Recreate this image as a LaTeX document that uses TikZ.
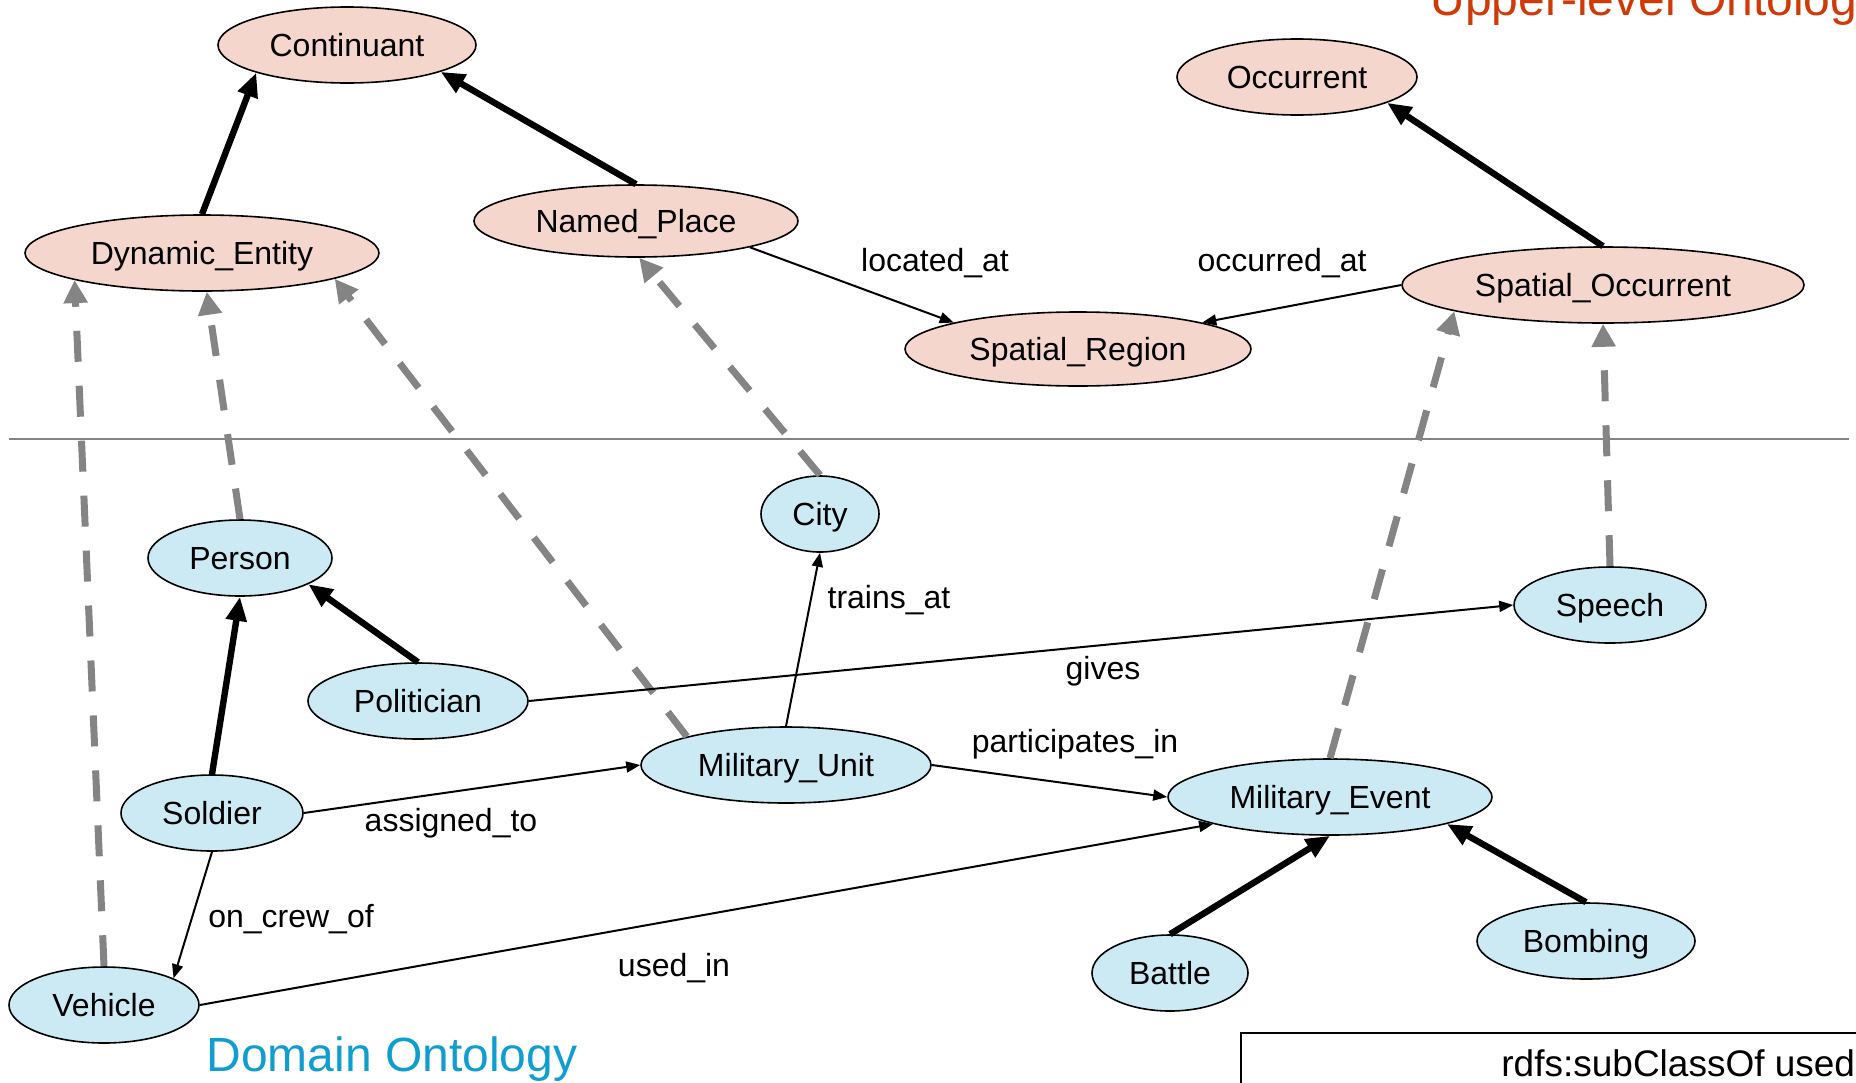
\documentclass[tikz,border=0pt]{standalone}
\usepackage{fontspec}
\setmainfont{Liberation Sans}
\usetikzlibrary{shapes.geometric,arrows.meta}
\definecolor{upperfill}{RGB}{245,214,204}
\definecolor{lowerfill}{RGB}{204,234,244}
\definecolor{uppertitle}{RGB}{208,58,8}
\definecolor{lowertitle}{RGB}{16,158,208}
\definecolor{linkgray}{RGB}{132,132,132}

\begin{document}
\begin{tikzpicture}[x=0.5pt,y=-0.5pt,
  concept/.style={ellipse, draw, line width=0.8pt, inner sep=0pt,
    font=\fontsize{16}{19}\selectfont, text height=11.5pt, text depth=0pt},
  upper/.style={concept, fill=upperfill},
  lower/.style={concept, fill=lowerfill},
  lbl/.style={font=\fontsize{16}{19}\selectfont, inner sep=0pt,
    text height=11.5pt, text depth=0pt},
  isa/.style={line width=3.2pt, -{Triangle[length=12pt,width=10pt]}},
  crossisa/.style={line width=3.5pt, linkgray, dash pattern=on 15.5pt off 12pt,
    -{Triangle[length=11.5pt,width=11.5pt]}},
  rel/.style={line width=1pt, -{Triangle[length=7pt,width=5.5pt]}},
]
\useasboundingbox (0,0) rectangle (1856,1082);
\clip (0,0) rectangle (1856,1082);

% upper-level classes
\node[upper, minimum width=129pt, minimum height=38pt] (Cont) at (347,45)   {Continuant};
\node[upper, minimum width=177pt, minimum height=38pt] (DE)   at (202,253)  {Dynamic\_Entity};
\node[upper, minimum width=162pt, minimum height=36pt] (NP)   at (636,221)  {Named\_Place};
\node[upper, minimum width=120pt, minimum height=38pt] (Occ)  at (1297,77)  {Occurrent};
\node[upper, minimum width=201pt, minimum height=38pt] (SO)   at (1603,285) {Spatial\_Occurrent};
\node[upper, minimum width=173pt, minimum height=37pt] (SR)   at (1078,349) {Spatial\_Region};

% separator between the two layers
\coordinate (sepL) at (9,439);
\coordinate (sepR) at (1849,439);
\draw[linkgray, line width=1pt] (sepL) -- (sepR);

% domain classes
\node[lower, minimum width=59pt,  minimum height=38pt] (City) at (820,514)  {City};
\node[lower, minimum width=92pt,  minimum height=38pt] (Per)  at (240,558)  {Person};
\node[lower, minimum width=96pt,  minimum height=38pt] (Sp)   at (1610,605) {Speech};
\node[lower, minimum width=110pt, minimum height=38pt] (Pol)  at (418,701)  {Politician};
\node[lower, minimum width=145pt, minimum height=38pt] (MU)   at (786,765)  {Military\_Unit};
\node[lower, minimum width=162pt, minimum height=38pt] (ME)   at (1330,797) {Military\_Event};
\node[lower, minimum width=91pt,  minimum height=38pt] (Sol)  at (212,813)  {Soldier};
\node[lower, minimum width=95pt,  minimum height=38pt] (Veh)  at (104,1005) {Vehicle};
\node[lower, minimum width=78pt,  minimum height=38pt] (Bat)  at (1170,973) {Battle};
\node[lower, minimum width=109pt, minimum height=38pt] (Bomb) at (1586,941) {Bombing};

% subclass links inside a layer
\draw[isa] (DE.north)   -- (Cont.197);
\draw[isa] (NP.north)   -- (Cont.344);
\draw[isa] (SO.north)   -- (Occ.344);
\draw[isa] (Sol.north)  -- (Per.south);
\draw[isa] (Pol.north)  -- (Per.339);
\draw[isa] (Bat.north)  -- (ME.south);
\draw[isa] (Bomb.north) -- (ME.347);

% subclass links across layers
\draw[crossisa] (Veh.north)  -- (DE.192);
\draw[crossisa] (Per.north)  -- (DE.277);
\draw[crossisa] (MU.164)     -- (DE.349);
\draw[crossisa] (City.north) -- (NP.275);
\draw[crossisa] (ME.north)   -- (SO.190);
\draw[crossisa] (Sp.north)   -- (SO.south);

% object properties
\draw[rel] (NP.347)    -- (SR.168);
\draw[rel] (SO.west)   -- (SR.12);
\draw[rel] (MU.north)  -- (City.south);
\draw[rel] (Pol.east)  -- (Sp.west);
\draw[rel] (MU.east)   -- (ME.west);
\draw[rel] (Sol.east)  -- (MU.west);
\draw[rel] (Sol.south) -- (Veh.21);
\draw[rel] (Veh.east)  -- (ME.193);

% property names
\node[lbl] (tLoc)  at (935,260)  {located\_at};
\node[lbl] (tOcc)  at (1282,260) {occurred\_at};
\node[lbl] (tTr)   at (889,597)  {trains\_at};
\node[lbl] (tGv)   at (1103,668) {gives};
\node[lbl] (tPart) at (1075,741) {participates\_in};
\node[lbl] (tAsg)  at (451,820)  {assigned\_to};
\node[lbl] (tCrew) at (291,916)  {on\_crew\_of};
\node[lbl] (tUse)  at (674,965)  {used\_in};

% layer titles
\node[anchor=base west, inner sep=0pt, text=uppertitle,
  font=\fontsize{24}{29}\selectfont] (upTitle) at (1430,15) {Upper-level Ontology};
\node[anchor=base west, inner sep=0pt, text=lowertitle,
  font=\fontsize{24}{29}\selectfont] (domTitle) at (206,1071) {Domain Ontology};

% legend box
\draw[line width=1pt] (1241,1200) -- (1241,1033) -- (1950,1033);
\node[anchor=base west, inner sep=0pt, font=\fontsize{18.5}{22}\selectfont]
  (legend) at (1501,1076) {rdfs:subClassOf used};
\end{tikzpicture}
\end{document}
